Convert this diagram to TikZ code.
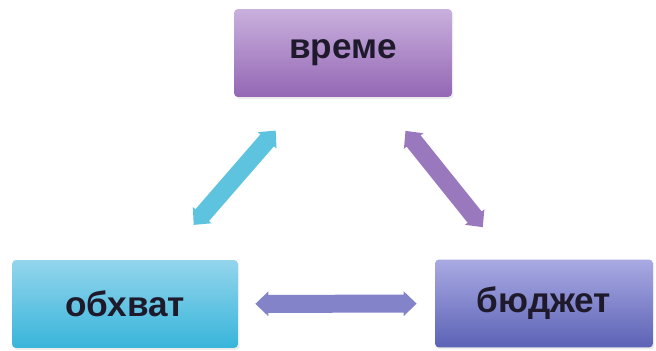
\documentclass[tikz,border=0pt]{standalone}
\usepackage{fontspec}
\setmainfont{Liberation Sans}
\usetikzlibrary{arrows.meta,shadows}

\definecolor{vremetop}{HTML}{C9B0DD}
\definecolor{vremebot}{HTML}{9467B5}
\definecolor{obhvattop}{HTML}{93D5EC}
\definecolor{obhvatbot}{HTML}{38B5DA}
\definecolor{bjudtop}{HTML}{A9AAE3}
\definecolor{bjudbot}{HTML}{5C62B5}
\definecolor{txt}{HTML}{1E1A2C}

\begin{document}
\begin{tikzpicture}[x=0.02cm, y=-0.02cm,
		box/.style={rounded corners=0.08cm, minimum height=1.76cm, text=txt,
			font=\bfseries\fontsize{20}{24}\selectfont,
			drop shadow={opacity=0.15, shadow xshift=0.03cm, shadow yshift=-0.04cm}},
		conn/.style={line width=0.36cm,
			{Triangle[length=0.26cm, width=0.48cm]}-{Triangle[length=0.26cm, width=0.48cm]}}]
		\useasboundingbox (0, 0) rectangle (656, 351);

		\node [box, minimum width=4.36cm, top color=vremetop, bottom color=vremebot] (vreme) at (343, 53) {време};
		\node [box, minimum width=4.52cm, top color=obhvattop, bottom color=obhvatbot] (obhvat) at (125, 304) {обхват};
		\node [box, minimum width=4.36cm, top color=bjudtop, bottom color=bjudbot] (bjudzhet) at (544, 303.5) {бюджет};

		\draw [conn, color={rgb,255:red,94;green,195;blue,222}, shorten <=0.92cm, shorten >=0.88cm] (obhvat) -- (vreme);
		\draw [conn, color={rgb,255:red,154;green,120;blue,189}, shorten <=0.86cm, shorten >=0.82cm] (vreme) -- (bjudzhet);
		\draw [conn, color={rgb,255:red,130;green,131;blue,201}, shorten <=0.34cm, shorten >=0.36cm] (obhvat) -- (bjudzhet);
	\end{tikzpicture}
\end{document}
